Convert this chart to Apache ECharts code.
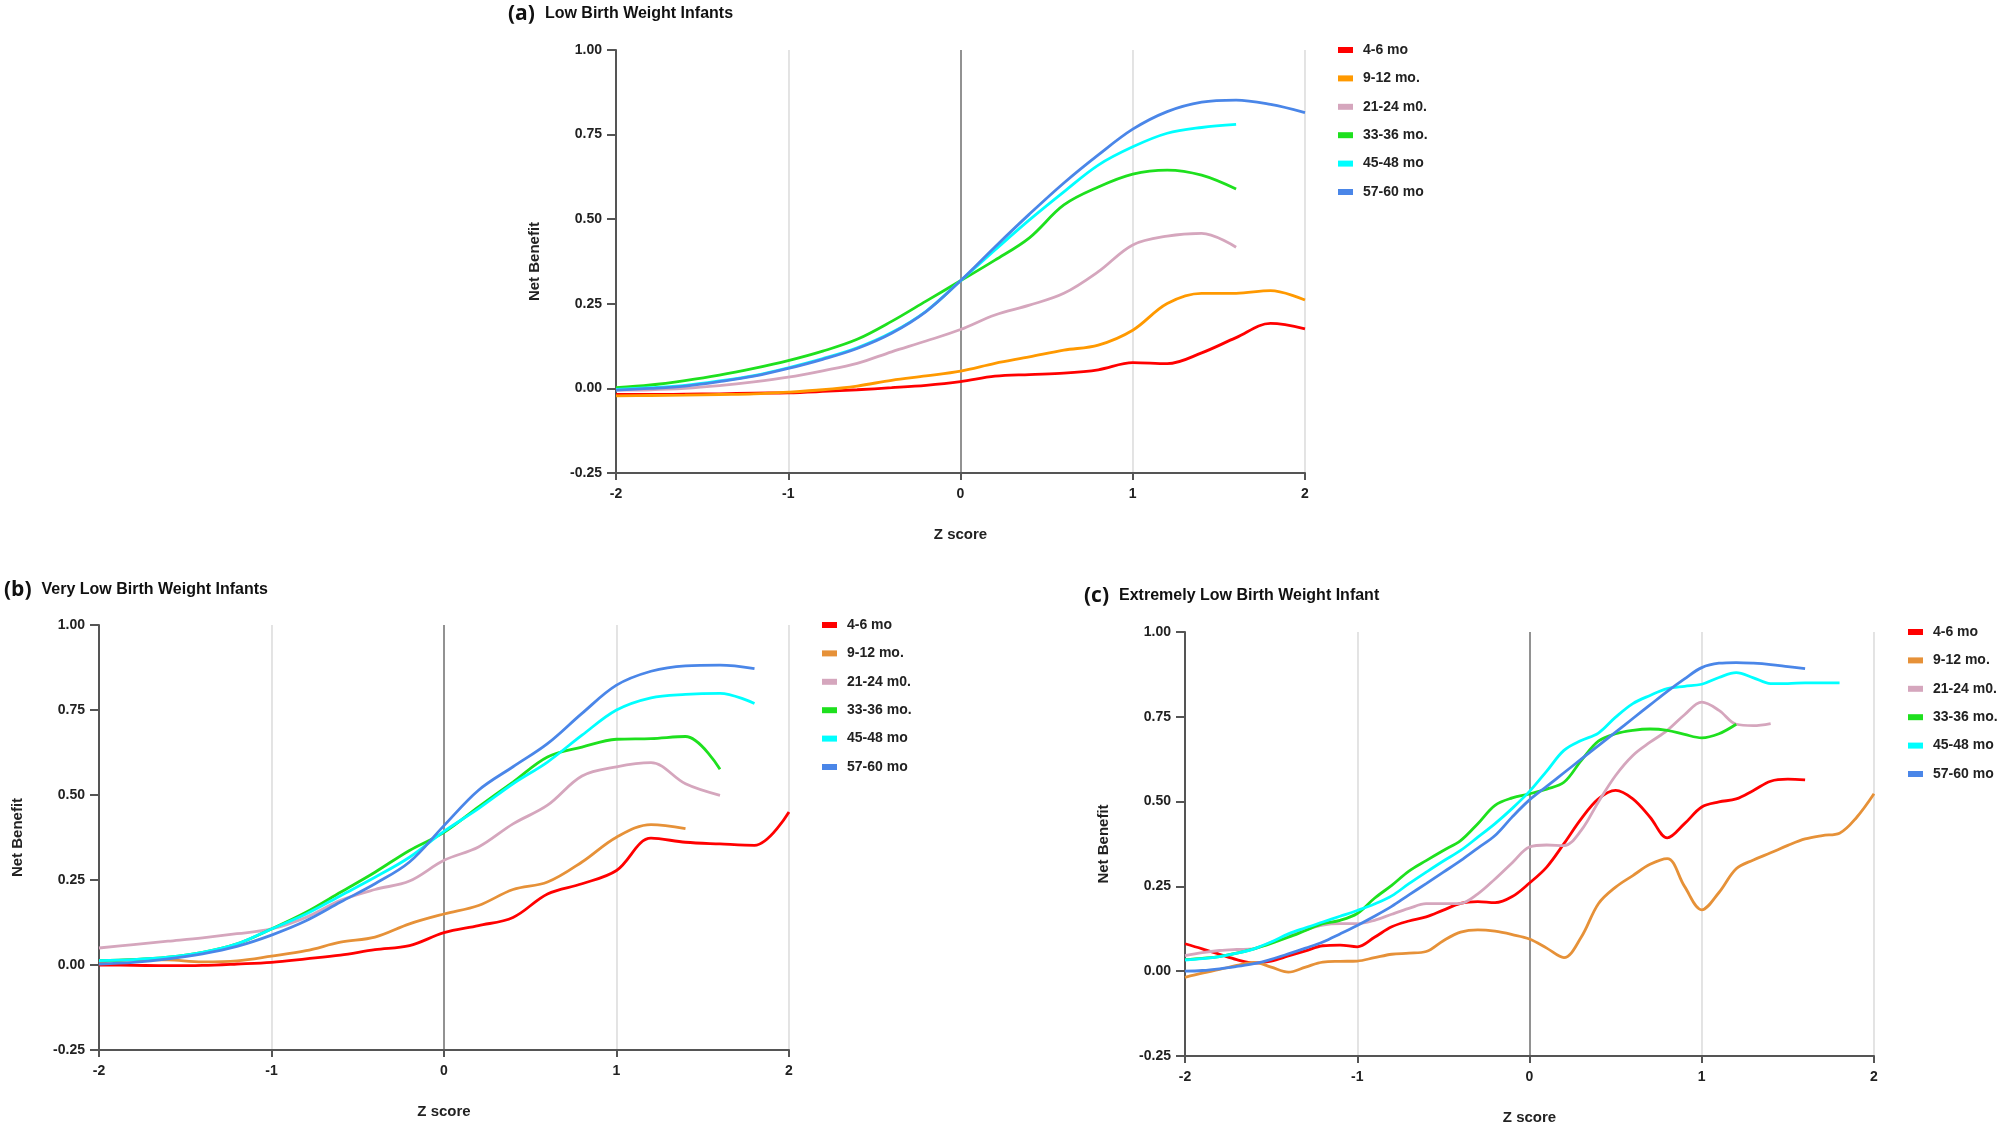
<!DOCTYPE html>
<html><head><meta charset="utf-8">
<script src="https://cdn.jsdelivr.net/npm/echarts@6/dist/echarts.min.js"></script>
<style>html,body{margin:0;padding:0;background:#fff}#c{width:2008px;height:1128px}</style>
</head><body><div id="c"></div>
<script>
// ---------- data ----------
const seriesNames = ['4-6 mo','9-12 mo.','21-24 m0.','33-36 mo.','45-48 mo','57-60 mo'];
const xTicks = [-2,-1,0,1,2];
const yTicks = [-0.25,0,0.25,0.5,0.75,1];

// Z score positions (panels a and b: step 0.2; panel c: step 0.1)
const zGridAB = [-2,-1.8,-1.6,-1.4,-1.2,-1,-0.8,-0.6,-0.4,-0.2,0,0.2,0.4,0.6,0.8,1,1.2,1.4,1.6,1.8,2];
const zGridC = [-2,-1.9,-1.8,-1.7,-1.6,-1.5,-1.4,-1.3,-1.2,-1.1,-1,-0.9,-0.8,-0.7,-0.6,-0.5,-0.4,-0.3,-0.2,-0.1,0,
                0.1,0.2,0.3,0.4,0.5,0.6,0.7,0.8,0.9,1,1.1,1.2,1.3,1.4,1.5,1.6,1.7,1.8,1.9,2];

// (a) Low Birth Weight Infants
const a46   = [-0.018,-0.018,-0.017,-0.016,-0.014,-0.013,-0.009,-0.004,0.002,0.009,0.020,0.036,0.041,0.045,0.055,0.076,0.073,0.105,0.150,0.192,0.176];
const a912  = [-0.022,-0.021,-0.020,-0.018,-0.016,-0.011,-0.004,0.007,0.024,0.037,0.051,0.074,0.093,0.113,0.128,0.172,0.251,0.281,0.281,0.289,0.261];
const a2124 = [-0.005,-0.004,0.000,0.008,0.019,0.033,0.052,0.074,0.108,0.140,0.174,0.217,0.246,0.281,0.345,0.424,0.450,0.458,0.417];
const a3336 = [0.002,0.010,0.023,0.039,0.059,0.082,0.110,0.145,0.198,0.258,0.318,0.379,0.445,0.542,0.595,0.633,0.645,0.630,0.589];
const a4548 = [-0.003,0.002,0.009,0.022,0.038,0.061,0.088,0.120,0.165,0.228,0.318,0.409,0.498,0.581,0.660,0.714,0.754,0.771,0.780];
const a5760 = [-0.005,0.000,0.007,0.020,0.036,0.059,0.086,0.118,0.163,0.227,0.318,0.418,0.515,0.607,0.690,0.766,0.818,0.846,0.852,0.839,0.815];

// (b) Very Low Birth Weight Infants
const b46   = [0.000,-0.001,-0.002,-0.001,0.003,0.008,0.018,0.029,0.045,0.057,0.095,0.116,0.140,0.209,0.239,0.278,0.373,0.361,0.356,0.352,0.450];
const b912  = [0.008,0.016,0.015,0.009,0.012,0.026,0.042,0.067,0.082,0.121,0.150,0.175,0.222,0.244,0.303,0.376,0.413,0.401];
const b2124 = [0.050,0.060,0.070,0.080,0.092,0.106,0.140,0.190,0.222,0.247,0.308,0.347,0.415,0.470,0.556,0.583,0.595,0.533,0.499];
const b3336 = [0.013,0.016,0.023,0.037,0.062,0.106,0.155,0.214,0.273,0.337,0.390,0.465,0.538,0.612,0.641,0.664,0.666,0.672,0.576];
const b4548 = [0.013,0.016,0.023,0.037,0.062,0.106,0.150,0.204,0.258,0.317,0.393,0.460,0.533,0.597,0.676,0.750,0.786,0.796,0.799,0.769];
const b5760 = [0.003,0.008,0.018,0.033,0.055,0.088,0.130,0.185,0.239,0.303,0.410,0.514,0.583,0.651,0.740,0.823,0.864,0.880,0.882,0.872];

// (c) Extremely Low Birth Weight Infant
const c46   = [0.081,0.066,0.050,0.034,0.024,0.030,0.045,0.060,0.075,0.077,0.072,0.100,0.131,0.148,0.160,0.180,0.200,0.205,0.202,0.220,0.260,
               0.307,0.376,0.449,0.508,0.533,0.508,0.454,0.393,0.435,0.484,0.499,0.508,0.533,0.560,0.566,0.564];
const c912  = [-0.018,-0.006,0.005,0.017,0.026,0.012,-0.003,0.012,0.027,0.029,0.030,0.040,0.050,0.053,0.058,0.090,0.115,0.122,0.118,0.108,0.095,
               0.068,0.040,0.100,0.199,0.248,0.282,0.315,0.332,0.250,0.181,0.232,0.302,0.328,0.349,0.371,0.390,0.400,0.407,0.454,0.523];
const c2124 = [0.046,0.055,0.061,0.064,0.066,0.085,0.105,0.122,0.136,0.140,0.140,0.150,0.168,0.185,0.199,0.199,0.200,0.228,0.272,0.320,0.366,
               0.372,0.370,0.415,0.499,0.577,0.636,0.675,0.710,0.756,0.793,0.769,0.728,0.724,0.730];
const c3336 = [0.034,0.038,0.043,0.053,0.066,0.082,0.100,0.120,0.140,0.150,0.170,0.215,0.253,0.295,0.326,0.356,0.385,0.435,0.489,0.511,0.523,
               0.537,0.557,0.621,0.678,0.700,0.710,0.714,0.710,0.698,0.688,0.700,0.728];
const c4548 = [0.033,0.037,0.043,0.053,0.066,0.086,0.110,0.128,0.145,0.162,0.179,0.198,0.222,0.258,0.292,0.325,0.356,0.395,0.435,0.480,0.530,
               0.590,0.651,0.680,0.702,0.749,0.789,0.813,0.833,0.840,0.846,0.866,0.880,0.865,0.848,0.848,0.850,0.850,0.850];
const c5760 = [0.000,0.002,0.007,0.014,0.022,0.035,0.051,0.068,0.086,0.110,0.135,0.162,0.191,0.225,0.258,0.292,0.326,0.363,0.400,0.455,0.505,
               0.545,0.585,0.625,0.665,0.705,0.745,0.785,0.825,0.862,0.895,0.908,0.910,0.908,0.904,0.898,0.892];

const panelTags = ['(a)','(b)','(c)'];
const panelTitles = ['Low Birth Weight Infants','Very Low Birth Weight Infants','Extremely Low Birth Weight Infant'];

// ---------- styles / layout ----------
const colorsA  = ['#ff0000','#ff9900','#d5a6bd','#1ee01e','#00ffff','#4a86e8'];
const colorsBC = ['#ff0000','#e69138','#d5a6bd','#1ee01e','#00ffff','#4a86e8'];
const panels = [
  {x: zGridAB, vals: [a46,a912,a2124,a3336,a4548,a5760], colors: colorsA,
   grid: {left: 616, top: 50, width: 689, height: 423}, title: [508, 1], legend: [1338, 42]},
  {x: zGridAB, vals: [b46,b912,b2124,b3336,b4548,b5760], colors: colorsBC,
   grid: {left: 99, top: 625, width: 690, height: 425}, title: [4, 577], legend: [822, 617]},
  {x: zGridC, vals: [c46,c912,c2124,c3336,c4548,c5760], colors: colorsBC,
   grid: {left: 1185, top: 632, width: 689, height: 424}, title: [1084, 583], legend: [1908, 624]}
];

const FONT = '"Liberation Sans", Arial, sans-serif';
const txt = {fontFamily: FONT, fontWeight: 'bold', color: '#222'};

const option = {
  animation: false,
  backgroundColor: '#ffffff',
  title: [], legend: [], grid: [], xAxis: [], yAxis: [], series: []
};

panels.forEach((p, i) => {
  option.grid.push(Object.assign({containLabel: false}, p.grid));
  option.title.push({
    left: p.title[0], top: p.title[1], padding: 0,
    text: '{p|' + panelTags[i] + '}  {t|' + panelTitles[i] + '}',
    textStyle: {rich: {
      p: {fontFamily: '"Open Sans", "Noto Sans", sans-serif', fontWeight: 'bold', fontSize: 21, color: '#111', lineHeight: 26},
      t: {fontFamily: FONT, fontWeight: 'bold', fontSize: 16, color: '#111', lineHeight: 26}
    }}
  });
  option.legend.push({
    orient: 'vertical', left: p.legend[0], top: p.legend[1], padding: 0,
    icon: 'rect', itemWidth: 15, itemHeight: 6, itemGap: 12.4,
    data: seriesNames.map((n, k) => ({name: n, itemStyle: {color: p.colors[k]}})),
    textStyle: Object.assign({fontSize: 14, lineHeight: 16, padding: [0, 0, 0, 5]}, txt),
    selectedMode: false
  });
  option.xAxis.push({
    type: 'value', gridIndex: i, min: xTicks[0], max: xTicks[xTicks.length - 1], interval: 1,
    name: 'Z score', nameLocation: 'middle', nameGap: 54,
    nameTextStyle: Object.assign({fontSize: 15}, txt),
    axisLine: {show: true, onZero: false, lineStyle: {color: '#555', width: 2}},
    axisTick: {show: true, inside: false, length: 7, lineStyle: {color: '#555', width: 2}},
    axisLabel: Object.assign({fontSize: 14, margin: 14}, txt),
    splitLine: {show: true, lineStyle: {color: ['#dddddd', '#dddddd', '#777777', '#dddddd', '#dddddd'], width: 1.6}}
  });
  option.yAxis.push({
    type: 'value', gridIndex: i, min: yTicks[0], max: yTicks[yTicks.length - 1], interval: 0.25,
    name: 'Net Benefit', nameLocation: 'middle', nameGap: 74,
    nameTextStyle: Object.assign({fontSize: 15}, txt),
    axisLine: {show: true, onZero: false, lineStyle: {color: '#555', width: 2}},
    axisTick: {show: true, inside: false, length: 9, lineStyle: {color: '#555', width: 2}},
    axisLabel: Object.assign({fontSize: 14, margin: 14, formatter: v => v.toFixed(2)}, txt),
    splitLine: {show: false}
  });
  p.vals.forEach((vals, k) => {
    option.series.push({
      type: 'line', name: seriesNames[k], xAxisIndex: i, yAxisIndex: i,
      data: vals.map((v, j) => [p.x[j], v]),
      smooth: 0.35, showSymbol: false, symbol: 'none',
      lineStyle: {color: p.colors[k], width: 2.8},
      itemStyle: {color: p.colors[k]},
      z: 3
    });
  });
});

const chart = echarts.init(document.getElementById('c'), null, {renderer: 'canvas'});
chart.setOption(option);
</script>
</body></html>
